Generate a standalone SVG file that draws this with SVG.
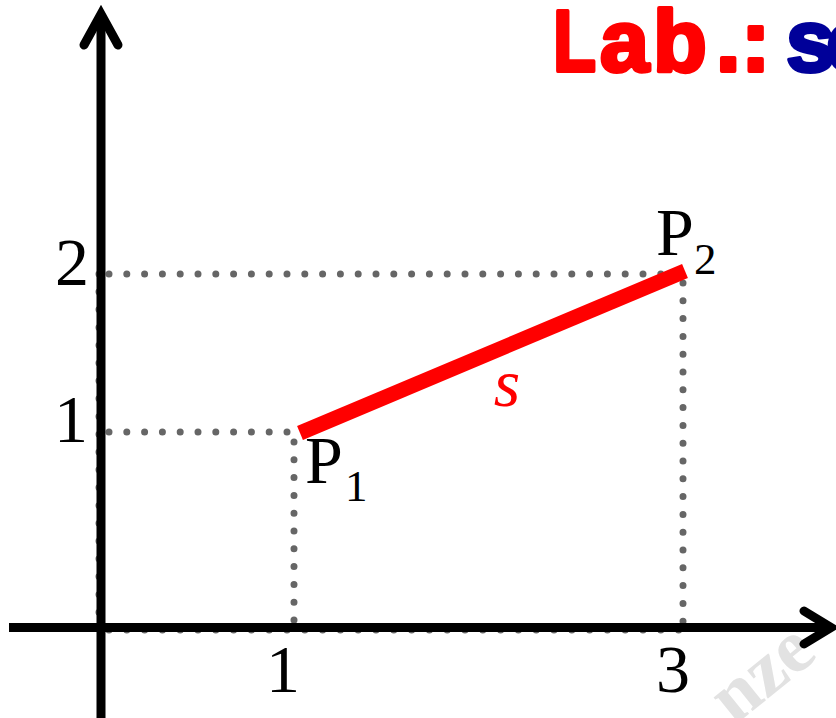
<svg xmlns="http://www.w3.org/2000/svg" width="836" height="718" viewBox="0 0 836 718">
<style>
.axis{stroke:#000;stroke-width:9;fill:none}
.head{stroke:#000;stroke-width:9;fill:none;stroke-linecap:round;stroke-linejoin:miter}
.dot{stroke:#666;stroke-width:7;fill:none;stroke-linecap:round;stroke-dasharray:0 17.8}
.num{font-family:"Liberation Serif","Times New Roman",serif;font-size:68px;fill:#000}
.sub{font-family:"Liberation Serif","Times New Roman",serif;font-size:45px;fill:#000}
.title{font-family:"Liberation Sans",Arial,sans-serif;font-weight:bold;font-size:88px;stroke-width:4;stroke-linejoin:round}
.red{fill:#ff0000;stroke:#ff0000}
.blue{fill:#000099;stroke:#000099}
</style>
<rect width="836" height="718" fill="#fff"/>
<g id="watermark">
<text x="734" y="726" transform="rotate(-39 734 726)" font-family="Liberation Serif,serif" font-weight="bold" font-size="76" fill="#e2e2e2">nze</text>
</g>
<g id="connectors">
<line class="dot" x1="99" y1="274" x2="99" y2="627"/>
<line class="dot" x1="109" y1="630" x2="683" y2="630"/>
<line class="dot" x1="109" y1="274" x2="675" y2="274"/>
<line class="dot" x1="109" y1="432" x2="287" y2="432"/>
<line class="dot" x1="294" y1="442" x2="294" y2="622"/>
<line class="dot" x1="683" y1="283" x2="683" y2="622"/>
<line id="segment-s" x1="300" y1="433" x2="685" y2="271" stroke="#ff0000" stroke-width="15"/>
</g>
<g id="x-axis">
<line class="axis" x1="9" y1="627.5" x2="829" y2="627.5"/>
<polyline class="head" points="804,611 831,627.5 804,644"/>
</g>
<g id="y-axis">
<line class="axis" x1="101" y1="15" x2="101" y2="718"/>
<polyline class="head" points="84,45 101,14 118,45"/>
</g>
<g id="tick-labels">
<text class="num" x="72" y="285" text-anchor="middle">2</text>
<text class="num" x="71" y="442" text-anchor="middle">1</text>
<text class="num" x="283" y="692" text-anchor="middle">1</text>
<text class="num" x="673" y="692" text-anchor="middle">3</text>
</g>
<g id="P1">
<text class="num" x="305" y="483">P</text>
<text class="sub" x="345" y="501">1</text>
</g>
<g id="P2">
<text class="num" x="656" y="255">P</text>
<text class="sub" x="694" y="274">2</text>
</g>
<g id="label-s">
<text x="507" y="406" text-anchor="middle" font-family="Liberation Serif,serif" font-style="italic" font-size="68" fill="#ff0000">s</text>
</g>
<g id="title">
<text class="title red" x="0" y="71" transform="translate(553 0) scale(0.8 1)">L</text>
<text class="title" y="71"><tspan class="red" x="600 653 716 741">ab.:</tspan><tspan class="blue" x="786 826">sc</tspan></text>
</g>
</svg>
